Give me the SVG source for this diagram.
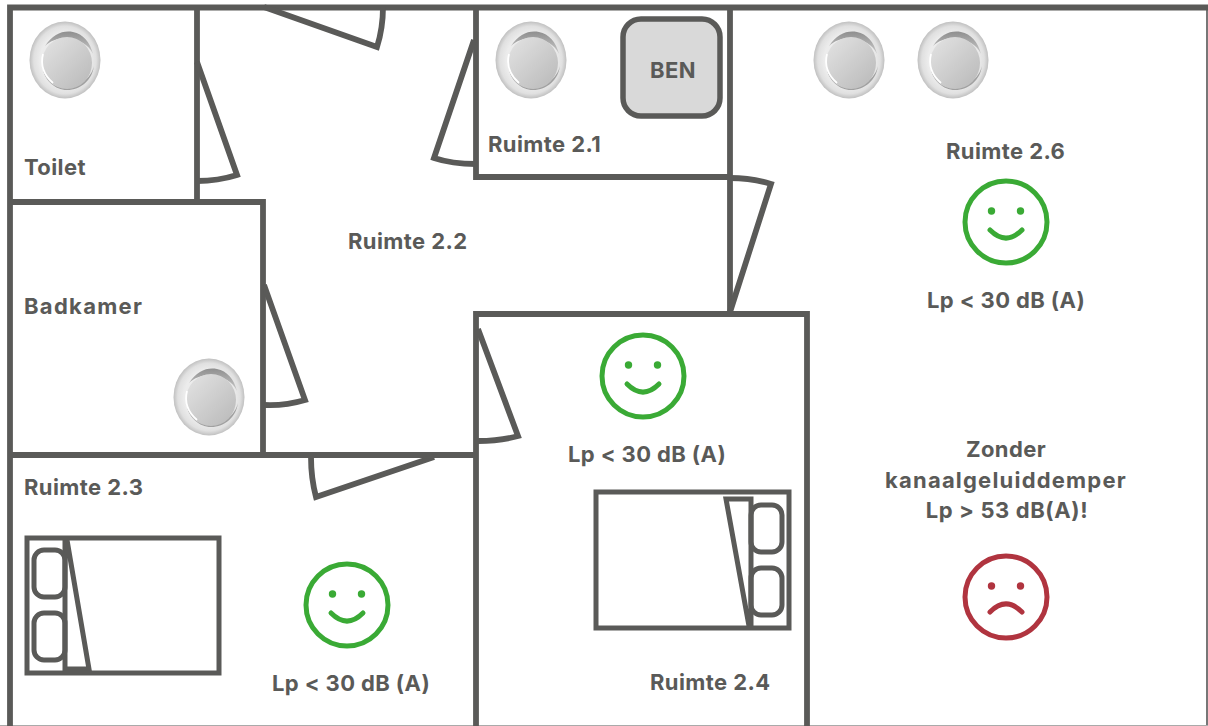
<svg xmlns="http://www.w3.org/2000/svg" width="1208" height="726" viewBox="0 0 1208 726">
<style>
.w{fill:none;stroke:#5a5a58;stroke-width:5.800}
.n{fill:none;stroke:#5a5a58;stroke-width:5}
.t{font-family:"Inter","Liberation Sans",sans-serif;font-weight:700;font-size:22px;fill:#5a5a58;letter-spacing:.4px}
.m{text-anchor:middle}
.g{fill:none;stroke:#3aaa35;stroke-width:5;stroke-linecap:round}
.r{fill:none;stroke:#b0343f;stroke-width:5;stroke-linecap:round}
.gd{fill:#3aaa35}.rd{fill:#b0343f}
</style>
<defs>
<linearGradient id="vg" x1="0" y1="0" x2="1" y2="1"><stop offset="0" stop-color="#e4e4e4"/><stop offset="1" stop-color="#b8b8b8"/></linearGradient>
<linearGradient id="va" x1="0.5" y1="0" x2="0.5" y2="1"><stop offset="0" stop-color="#8f8f8f"/><stop offset="1" stop-color="#c8c8c8"/></linearGradient>
<radialGradient id="vr" cx=".5" cy=".5" r=".5"><stop offset=".7" stop-color="#ececec"/><stop offset=".88" stop-color="#e0e0e0"/><stop offset="1" stop-color="#c0c0c0"/></radialGradient>
<g id="vent"><ellipse rx="35.500" ry="38.500" fill="url(#vr)"/><path d="M-20 -14C-12 -26 -2 -30 8 -28C18 -26 25 -18 28 -6C24 -15 14 -21 2 -22C-8 -22 -15 -19 -20 -14Z" fill="url(#va)"/><path d="M-22 10C-20 20 -10 30 2 30C16 30 27 20 29 6C26 18 15 27 2 27C-8 27 -18 20 -22 10Z" fill="#a0a0a0"/><ellipse cx="2" cy="3" rx="25" ry="26" fill="url(#vg)"/><path d="M-22-6C-25 6-20 16-12 23" fill="none" stroke="#fff" stroke-width="1.800"/></g>
<g id="smile"><circle r="41" class="g"/><circle cx="-14.500" cy="-11" r="3.700" class="gd"/><circle cx="14.500" cy="-11" r="3.700" class="gd"/><path d="M-16 8Q0 24 16 8" class="g"/></g>
<g id="frown"><circle r="41" class="r"/><circle cx="-14.500" cy="-11" r="3.700" class="rd"/><circle cx="14.500" cy="-11" r="3.700" class="rd"/><path d="M-16 15Q0-1 16 15" class="r"/></g>
</defs>
<g id="connectors">
<path d="M1207 7V726" fill="none" stroke="#777" stroke-width="2"/>
<path d="M0 725.500H1208" fill="none" stroke="#aaa" stroke-width="1"/>
<path class="w" d="M1208 7.500H10V726M197 7V202M476 7V177H730M730 7V312M10 202H263V455M10 455H476M476 726V314H807V726"/>
<path class="w" d="M197 62L237 175Q218 181 197 181"/>
<path class="w" d="M264 7L377 47Q383 28 383 7"/>
<path class="w" d="M474 40L434 158Q452 164 476 164"/>
<path class="w" d="M730 312L771 184Q752 178 730 178"/>
<path class="w" d="M264 285L305 400Q285 406 264 405"/>
<path class="w" d="M478 329L518 436Q500 441 478 441"/>
<path class="w" d="M434 457L316 497Q311 478 311 457"/>
</g>
<g id="vent-toilet"><use href="#vent" x="65" y="60"/></g>
<g id="vent-21"><use href="#vent" x="531" y="60"/></g>
<g id="vent-26a"><use href="#vent" x="849" y="60"/></g>
<g id="vent-26b"><use href="#vent" x="953" y="60"/></g>
<g id="vent-bad"><use href="#vent" x="209" y="397"/></g>
<g id="ben"><rect x="623" y="19" width="97" height="97" rx="18" fill="#d9d9d9" stroke="#5a5a58" stroke-width="5.500"/><text class="t m" x="673" y="78">BEN</text></g>
<g id="toilet"><text class="t" x="24" y="175">Toilet</text></g>
<g id="ruimte-21"><text class="t" x="488" y="152">Ruimte 2.1</text></g>
<g id="ruimte-22"><text class="t" x="348" y="249">Ruimte 2.2</text></g>
<g id="badkamer"><text class="t" x="24" y="314" style="letter-spacing:1.300px">Badkamer</text></g>
<g id="ruimte-23"><text class="t" x="24" y="495">Ruimte 2.3</text></g>
<g id="ruimte-24"><text class="t" x="650" y="690">Ruimte 2.4</text></g>
<g id="ruimte-26"><text class="t" x="946" y="159">Ruimte 2.6</text></g>
<g id="bed-23">
<rect x="27" y="538" width="192" height="135" class="n"/>
<path class="n" d="M65 538V669H89L67 540"/>
<rect x="34" y="550" width="31" height="47" rx="10" class="n"/>
<rect x="34" y="613" width="31" height="47" rx="10" class="n"/>
</g>
<g id="bed-24">
<rect x="596" y="492" width="193" height="136" class="n"/>
<path class="n" d="M751 628V499H726L749 626"/>
<rect x="751" y="505" width="31" height="47" rx="10" class="n"/>
<rect x="751" y="568" width="31" height="47" rx="10" class="n"/>
</g>
<g id="smiley-26"><use href="#smile" x="1006" y="222"/><text class="t m" x="1006" y="308">Lp &lt; 30 dB (A)</text></g>
<g id="smiley-24"><use href="#smile" x="643" y="376"/><text class="t m" x="647" y="462">Lp &lt; 30 dB (A)</text></g>
<g id="smiley-23"><use href="#smile" x="347" y="605"/><text class="t m" x="351" y="691">Lp &lt; 30 dB (A)</text></g>
<g id="zonder"><text class="t m" x="1006" y="457">Zonder</text><text class="t m" x="1006" y="488" style="letter-spacing:1.200px">kanaalgeluiddemper</text><text class="t m" x="1007" y="518" style="letter-spacing:.6px">Lp &gt; 53 dB(A)!</text><use href="#frown" x="1006" y="597"/></g>
</svg>
